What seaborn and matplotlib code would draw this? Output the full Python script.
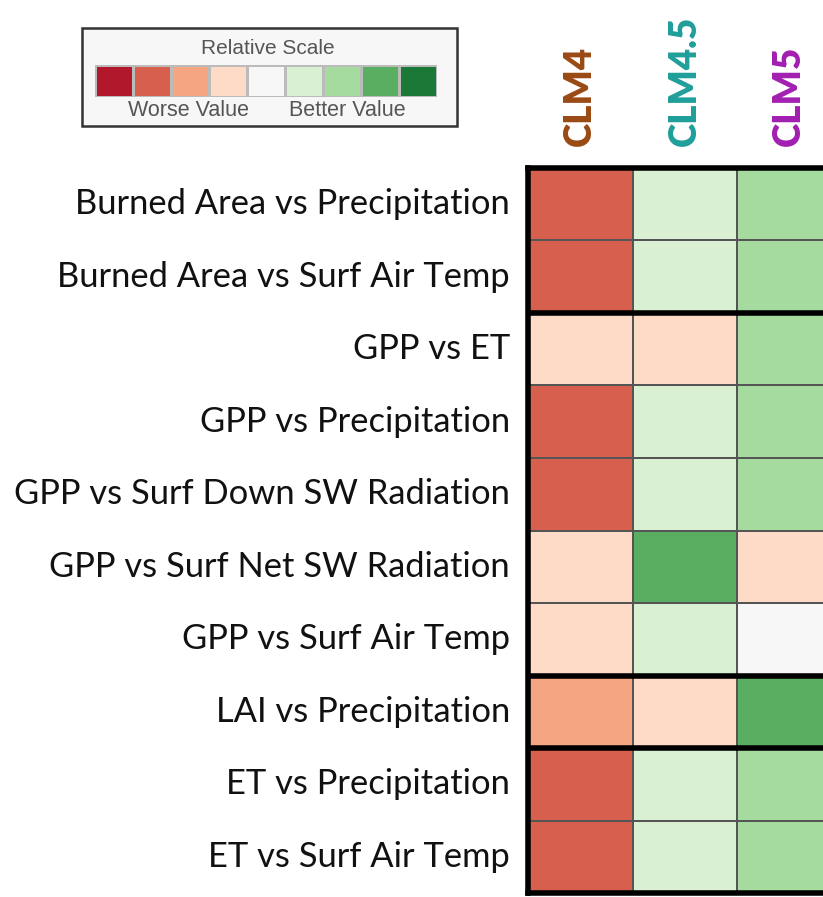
import numpy as np
import seaborn as sns
import matplotlib.pyplot as plt
from matplotlib.colors import ListedColormap
from matplotlib.patches import Rectangle

# relaciones evaluadas (filas) y modelos (columnas)
relaciones = [
    "Burned Area vs Precipitation",
    "Burned Area vs Surf Air Temp",
    "GPP vs ET",
    "GPP vs Precipitation",
    "GPP vs Surf Down SW Radiation",
    "GPP vs Surf Net SW Radiation",
    "GPP vs Surf Air Temp",
    "LAI vs Precipitation",
    "ET vs Precipitation",
    "ET vs Surf Air Temp",
]
modelos = ["CLM4", "CLM4.5", "CLM5"]
colores_modelos = ["#9a4a14", "#1f9e9a", "#a21fb0"]

# escala relativa: -4 (peor) ... 4 (mejor)
clm4 = [-3, -3, -1, -3, -3, -1, -1, -2, -3, -3]
clm45 = [1, 1, -1, 1, 1, 3, 1, -1, 1, 1]
clm5 = [2, 2, 2, 2, 2, -1, 0, 3, 2, 2]

escala = [-4, -3, -2, -1, 0, 1, 2, 3, 4]
paleta = ["#b2182b", "#d6604d", "#f4a582", "#fddbc7", "#f7f7f7",
          "#d9f0d3", "#a6dba0", "#5aae61", "#1b7837"]
cortes_grupo = [2, 7, 8]

sns.set_theme(style="white")
plt.rcParams['font.family'] = ['Lato', 'DejaVu Sans']

W, H = 823, 897
fig = plt.figure(figsize=(W / 100, H / 100), dpi=100)
cmap = ListedColormap(paleta)

# mapa de calor principal
x0, x1, y0, y1 = 528, 841.5, 168, 893
ax = fig.add_axes([x0 / W, 1 - y1 / H, (x1 - x0) / W, (y1 - y0) / H])
datos = np.array([clm4, clm45, clm5]).T
sns.heatmap(datos, ax=ax, cmap=cmap, vmin=-4.5, vmax=4.5, cbar=False,
            linewidths=1.2, linecolor="#555555",
            xticklabels=modelos, yticklabels=relaciones)
for f in cortes_grupo:
    ax.axhline(f, color="black", lw=4)
for s in ax.spines.values():
    s.set_visible(True)
    s.set_color("black")
    s.set_linewidth(4)
ax.tick_params(axis="y", length=0, pad=13, labelsize=24.8, rotation=0)
ax.xaxis.tick_top()
ax.tick_params(axis="x", length=0, pad=16, labelsize=26.5, rotation=90)
for lab, c in zip(ax.get_xticklabels(), colores_modelos):
    lab.set_color(c)
    lab.set_fontweight("heavy")
for lab in ax.get_yticklabels():
    lab.set_color("#111111")

# leyenda de escala relativa
fig.patches.append(Rectangle((82 / W, 1 - 126 / H), (457 - 82) / W, (126 - 28) / H,
                             transform=fig.transFigure, facecolor="#f7f7f7",
                             edgecolor="#333333", lw=1.8, zorder=-5))
lx0, lx1, ly0, ly1 = 95, 437, 65, 97
axl = fig.add_axes([lx0 / W, 1 - ly1 / H, (lx1 - lx0) / W, (ly1 - ly0) / H])
axl.set_zorder(2)
sns.heatmap(np.array([escala]), ax=axl, cmap=cmap, vmin=-4.5, vmax=4.5, cbar=False,
            linewidths=1, linecolor="#bbbbbb", xticklabels=False, yticklabels=False)
leg_font = ["Liberation Sans", "DejaVu Sans"]
fig.text(268 / W, 1 - 48 / H, "Relative Scale", ha="center", va="center",
         fontsize=15, color="#555555", family=leg_font)
fig.text(189 / W, 1 - 111 / H, "Worse Value", ha="center", va="center",
         fontsize=15.5, color="#555555", family=leg_font)
fig.text(347 / W, 1 - 111 / H, "Better Value", ha="center", va="center",
         fontsize=15.5, color="#555555", family=leg_font)

fig.savefig("out.png", dpi=100)
